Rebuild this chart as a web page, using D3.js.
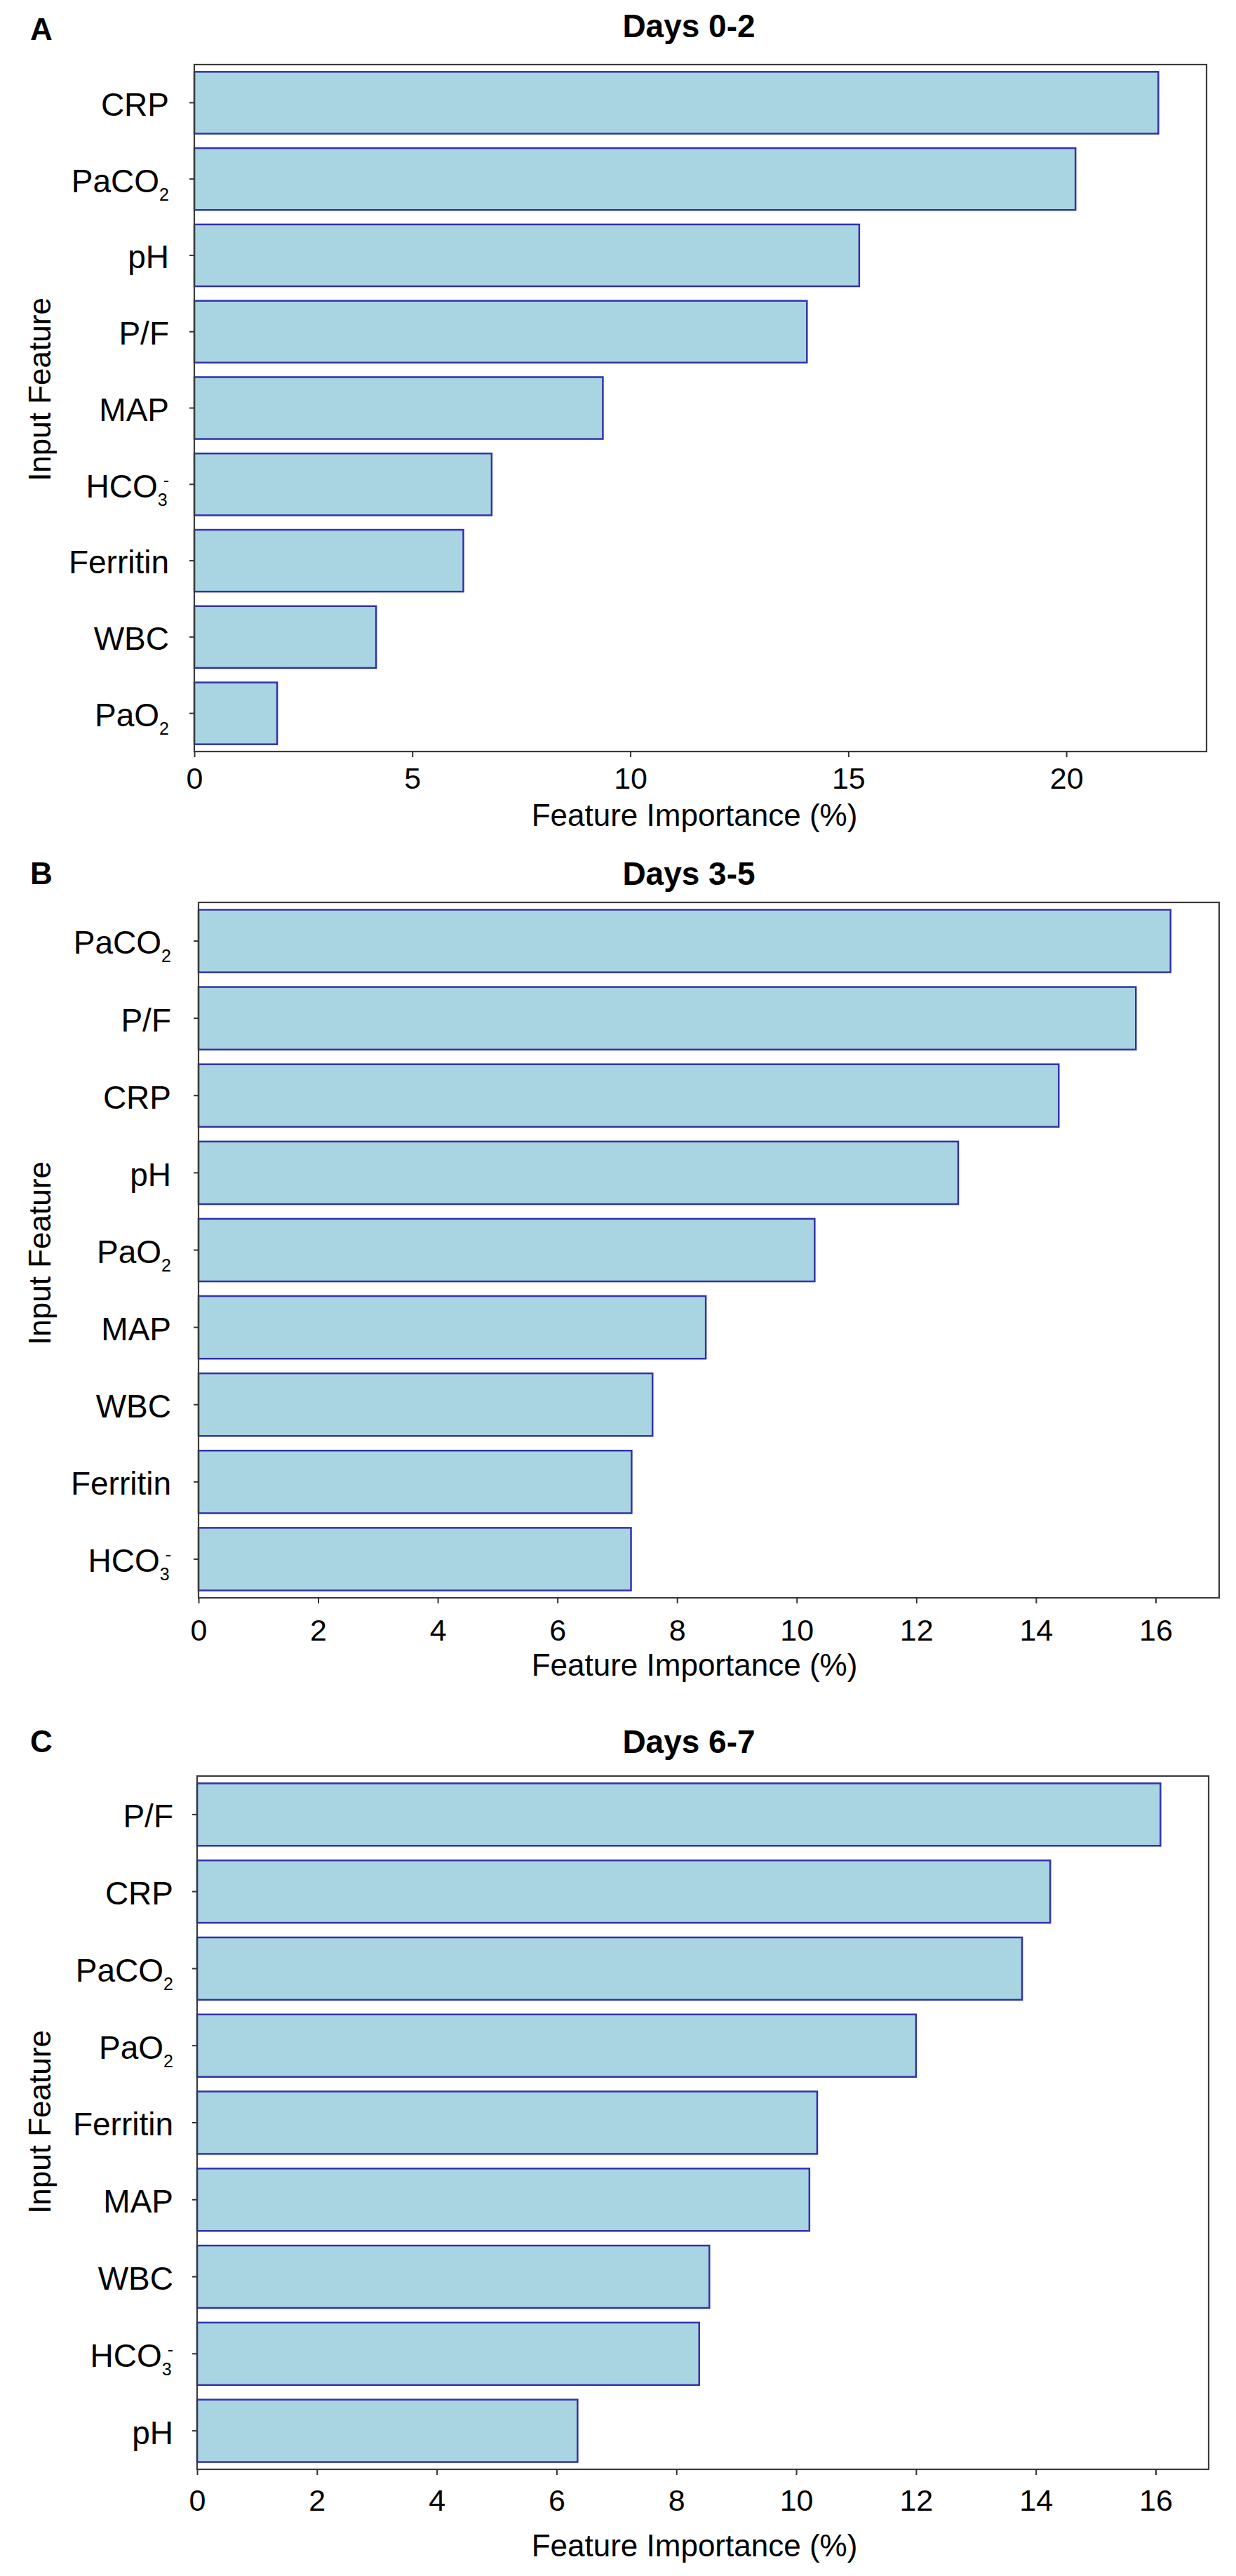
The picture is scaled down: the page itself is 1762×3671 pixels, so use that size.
<!DOCTYPE html>
<html>
<head>
<meta charset="utf-8">
<script src="https://cdn.jsdelivr.net/npm/d3@7"></script>
<style>
  body { margin: 0; background: #fff; }
  svg text { font-family: "Liberation Sans", Arial, sans-serif; fill: #000; }
</style>
</head>
<body>
<div id="chart"></div>
<script>
// Data
// =================================
const featuresA = ["CRP", "PaCO2", "pH", "P/F", "MAP", "HCO3-", "Ferritin", "WBC", "PaO2"];
const valuesA = [22.11, 20.21, 15.25, 14.05, 9.37, 6.82, 6.17, 4.17, 1.90];

const featuresB = ["PaCO2", "P/F", "CRP", "pH", "PaO2", "MAP", "WBC", "Ferritin", "HCO3-"];
const valuesB = [16.25, 15.67, 14.38, 12.70, 10.30, 8.48, 7.59, 7.24, 7.23];

const featuresC = ["P/F", "CRP", "PaCO2", "PaO2", "Ferritin", "MAP", "WBC", "HCO3-", "pH"];
const valuesC = [16.08, 14.24, 13.77, 12.00, 10.35, 10.22, 8.55, 8.38, 6.35];

const ticksA = [0, 5, 10, 15, 20];
const ticksBC = [0, 2, 4, 6, 8, 10, 12, 14, 16];

const panelLetters = ["A", "B", "C"];
const panelTitles = ["Days 0-2", "Days 3-5", "Days 6-7"];

// Layout of each panel (pixels)
// =================================
const svgWidth = 1762;
const svgHeight = 3671;

const panels = [
  { features: featuresA, values: valuesA, ticks: ticksA,
    top: 92, bottom: 1071, left: 277, right: 1720,
    titleY: 53, letterY: 57, yLabelY: 555, xLabelY: 1177, xPad: 14, yPad: 29 },
  { features: featuresB, values: valuesB, ticks: ticksBC,
    top: 1286, bottom: 2277, left: 283, right: 1738,
    titleY: 1261, letterY: 1260, yLabelY: 1786, xLabelY: 2388, xPad: 22, yPad: 32 },
  { features: featuresC, values: valuesC, ticks: ticksBC,
    top: 2531, bottom: 3519, left: 281, right: 1723,
    titleY: 2498, letterY: 2497, yLabelY: 3024, xLabelY: 3643, xPad: 20, yPad: 27 }
];

const svg = d3.select("#chart")
  .append("svg")
  .attr("width", svgWidth)
  .attr("height", svgHeight);

// write "PaCO2" / "HCO3-" with sub- and superscripts
function chemLabel(sel, name) {
  const m = name.match(/^(.*?)(\d)(-?)$/);
  sel.text(null);
  if (!m) {
    sel.append("tspan").text(name);
    return;
  }
  sel.append("tspan").text(m[1]);
  sel.append("tspan")
    .attr("dy", 12)
    .attr("font-size", 25)
    .text(m[2]);
  if (m[3]) {
    sel.append("tspan")
      .attr("dx", -6)
      .attr("dy", -28)
      .attr("font-size", 25)
      .text("-");
  }
}

panels.forEach(function(p, i) {
  const g = svg.append("g");

  const x = d3.scaleLinear()
    .domain([0, d3.max(p.values) * 1.05])
    .range([p.left, p.right]);

  const y = d3.scaleBand()
    .domain(p.features)
    .range([p.top, p.bottom])
    .paddingInner(0.19)
    .paddingOuter(0.095);

  // bars
  g.selectAll("rect.bar")
    .data(p.features)
    .enter()
    .append("rect")
    .attr("class", "bar")
    .attr("x", x(0))
    .attr("y", d => y(d))
    .attr("width", (d, j) => x(p.values[j]) - x(0))
    .attr("height", y.bandwidth())
    .attr("fill", "#a9d5e2")
    .attr("stroke", "#3232aa")
    .attr("stroke-width", 2.5);

  // frame
  g.append("rect")
    .attr("x", p.left)
    .attr("y", p.top)
    .attr("width", p.right - p.left)
    .attr("height", p.bottom - p.top)
    .attr("fill", "none")
    .attr("stroke", "#3a3a3a")
    .attr("stroke-width", 2.2);

  // axes
  const leftAxis = g.append("g")
    .attr("transform", `translate(${p.left}, 0)`)
    .call(d3.axisLeft(y).tickSize(7).tickSizeOuter(0).tickPadding(p.yPad));
  leftAxis.select(".domain").remove();
  leftAxis.selectAll("line").attr("stroke", "#333").attr("stroke-width", 2);
  leftAxis.selectAll("text")
    .attr("font-size", 46)
    .attr("dy", "0.4em")
    .attr("fill", "#111")
    .each(function(d) { chemLabel(d3.select(this), d); });

  const bottomAxis = g.append("g")
    .attr("transform", `translate(0, ${p.bottom})`)
    .call(d3.axisBottom(x).tickValues(p.ticks).tickFormat(d3.format("d"))
      .tickSize(8).tickSizeOuter(0).tickPadding(p.xPad));
  bottomAxis.select(".domain").remove();
  bottomAxis.selectAll("line").attr("stroke", "#333").attr("stroke-width", 2);
  bottomAxis.selectAll("text")
    .attr("font-size", 43)
    .attr("fill", "#111");

  // titles and axis labels
  g.append("text")
    .attr("x", 43)
    .attr("y", p.letterY)
    .attr("font-size", 44)
    .attr("font-weight", "bold")
    .text(panelLetters[i]);

  g.append("text")
    .attr("x", 982)
    .attr("y", p.titleY)
    .attr("text-anchor", "middle")
    .attr("font-size", 46)
    .attr("font-weight", "bold")
    .text(panelTitles[i]);

  g.append("text")
    .attr("x", 990)
    .attr("y", p.xLabelY)
    .attr("text-anchor", "middle")
    .attr("font-size", 44)
    .text("Feature Importance (%)");

  g.append("text")
    .attr("transform", `translate(72, ${p.yLabelY}) rotate(-90)`)
    .attr("text-anchor", "middle")
    .attr("font-size", 44)
    .text("Input Feature");
});
</script>
</body>
</html>
